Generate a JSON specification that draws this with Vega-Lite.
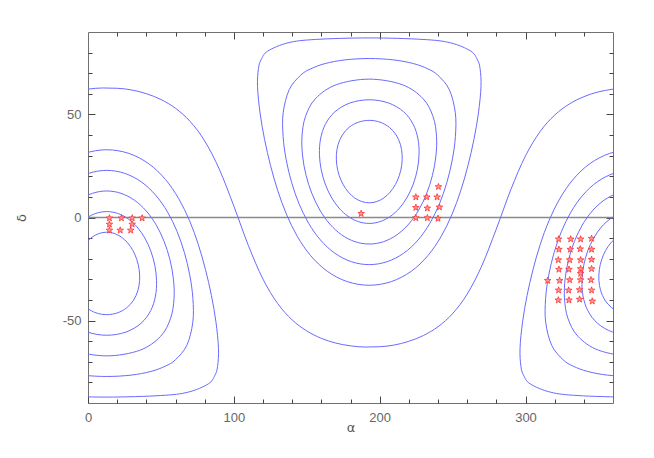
{
  "$schema": "https://vega.github.io/schema/vega-lite/v6.json",
  "width": 525,
  "height": 371,
  "autosize": {"type": "none"},
  "padding": {"left": 88, "top": 32, "right": 41, "bottom": 55},
  "background": "white",
  "config": {
    "view": {"stroke": "#707070", "strokeWidth": 1},
    "axis": {
      "labelFont": "Liberation Sans",
      "labelFontSize": 13,
      "labelColor": "#666666",
      "tickColor": "#444444",
      "tickWidth": 1,
      "ticks": true,
      "domain": false,
      "grid": false,
      "labelOverlap": false,
      "labelFlush": false,
      "titleFont": "DejaVu Sans",
      "titleFontSize": 13,
      "titleFontWeight": "normal",
      "titleColor": "#555555"
    }
  },
  "datasets": {
    "loops": [
      {"c":"N20","a":192.86,"d":47.13},{"c":"N20","a":200.22,"d":46.26},{"c":"N20","a":206.57,"d":43.80},{"c":"N20","a":211.28,"d":40.07},{"c":"N20","a":214.19,"d":35.50},{"c":"N20","a":215.40,"d":30.49},{"c":"N20","a":215.10,"d":25.37},{"c":"N20","a":213.51,"d":20.47},{"c":"N20","a":210.81,"d":16.04},{"c":"N20","a":207.19,"d":12.32},{"c":"N20","a":202.85,"d":9.49},{"c":"N20","a":197.99,"d":7.73},{"c":"N20","a":192.86,"d":7.13},{"c":"N20","a":187.73,"d":7.73},{"c":"N20","a":182.87,"d":9.49},{"c":"N20","a":178.53,"d":12.32},{"c":"N20","a":174.91,"d":16.04},{"c":"N20","a":172.21,"d":20.47},{"c":"N20","a":170.62,"d":25.37},{"c":"N20","a":170.32,"d":30.49},{"c":"N20","a":171.53,"d":35.50},{"c":"N20","a":174.44,"d":40.07},{"c":"N20","a":179.15,"d":43.80},{"c":"N20","a":185.50,"d":46.26},
      {"c":"S20a","a":12.86,"d":-47.13},{"c":"S20a","a":20.22,"d":-46.26},{"c":"S20a","a":26.57,"d":-43.80},{"c":"S20a","a":31.28,"d":-40.07},{"c":"S20a","a":34.19,"d":-35.50},{"c":"S20a","a":35.40,"d":-30.49},{"c":"S20a","a":35.10,"d":-25.37},{"c":"S20a","a":33.51,"d":-20.47},{"c":"S20a","a":30.81,"d":-16.04},{"c":"S20a","a":27.19,"d":-12.32},{"c":"S20a","a":22.85,"d":-9.49},{"c":"S20a","a":17.99,"d":-7.73},{"c":"S20a","a":12.86,"d":-7.13},{"c":"S20a","a":7.73,"d":-7.73},{"c":"S20a","a":2.87,"d":-9.49},{"c":"S20a","a":-1.47,"d":-12.32},{"c":"S20a","a":-5.09,"d":-16.04},{"c":"S20a","a":-7.79,"d":-20.47},{"c":"S20a","a":-9.38,"d":-25.37},{"c":"S20a","a":-9.68,"d":-30.49},{"c":"S20a","a":-8.47,"d":-35.50},{"c":"S20a","a":-5.56,"d":-40.07},{"c":"S20a","a":-0.85,"d":-43.80},{"c":"S20a","a":5.50,"d":-46.26},
      {"c":"S20b","a":372.86,"d":-47.13},{"c":"S20b","a":380.22,"d":-46.26},{"c":"S20b","a":386.57,"d":-43.80},{"c":"S20b","a":391.28,"d":-40.07},{"c":"S20b","a":394.19,"d":-35.50},{"c":"S20b","a":395.40,"d":-30.49},{"c":"S20b","a":395.10,"d":-25.37},{"c":"S20b","a":393.51,"d":-20.47},{"c":"S20b","a":390.81,"d":-16.04},{"c":"S20b","a":387.19,"d":-12.32},{"c":"S20b","a":382.85,"d":-9.49},{"c":"S20b","a":377.99,"d":-7.73},{"c":"S20b","a":372.86,"d":-7.13},{"c":"S20b","a":367.73,"d":-7.73},{"c":"S20b","a":362.87,"d":-9.49},{"c":"S20b","a":358.53,"d":-12.32},{"c":"S20b","a":354.91,"d":-16.04},{"c":"S20b","a":352.21,"d":-20.47},{"c":"S20b","a":350.62,"d":-25.37},{"c":"S20b","a":350.32,"d":-30.49},{"c":"S20b","a":351.53,"d":-35.50},{"c":"S20b","a":354.44,"d":-40.07},{"c":"S20b","a":359.15,"d":-43.80},{"c":"S20b","a":365.50,"d":-46.26},
      {"c":"N30","a":192.86,"d":57.13},{"c":"N30","a":206.09,"d":55.56},{"c":"N30","a":216.42,"d":51.29},{"c":"N30","a":222.98,"d":45.20},{"c":"N30","a":226.26,"d":38.12},{"c":"N30","a":227.02,"d":30.67},{"c":"N30","a":225.83,"d":23.26},{"c":"N30","a":223.06,"d":16.24},{"c":"N30","a":218.94,"d":9.93},{"c":"N30","a":213.64,"d":4.60},{"c":"N30","a":207.34,"d":0.54},{"c":"N30","a":200.30,"d":-2.00},{"c":"N30","a":192.86,"d":-2.87},{"c":"N30","a":185.42,"d":-2.00},{"c":"N30","a":178.38,"d":0.54},{"c":"N30","a":172.08,"d":4.60},{"c":"N30","a":166.78,"d":9.93},{"c":"N30","a":162.66,"d":16.24},{"c":"N30","a":159.89,"d":23.26},{"c":"N30","a":158.70,"d":30.67},{"c":"N30","a":159.46,"d":38.12},{"c":"N30","a":162.74,"d":45.20},{"c":"N30","a":169.30,"d":51.29},{"c":"N30","a":179.63,"d":55.56},
      {"c":"S30a","a":12.86,"d":-57.13},{"c":"S30a","a":26.09,"d":-55.56},{"c":"S30a","a":36.42,"d":-51.29},{"c":"S30a","a":42.98,"d":-45.20},{"c":"S30a","a":46.26,"d":-38.12},{"c":"S30a","a":47.02,"d":-30.67},{"c":"S30a","a":45.83,"d":-23.26},{"c":"S30a","a":43.06,"d":-16.24},{"c":"S30a","a":38.94,"d":-9.93},{"c":"S30a","a":33.64,"d":-4.60},{"c":"S30a","a":27.34,"d":-0.54},{"c":"S30a","a":20.30,"d":2.00},{"c":"S30a","a":12.86,"d":2.87},{"c":"S30a","a":5.42,"d":2.00},{"c":"S30a","a":-1.62,"d":-0.54},{"c":"S30a","a":-7.92,"d":-4.60},{"c":"S30a","a":-13.22,"d":-9.93},{"c":"S30a","a":-17.34,"d":-16.24},{"c":"S30a","a":-20.11,"d":-23.26},{"c":"S30a","a":-21.30,"d":-30.67},{"c":"S30a","a":-20.54,"d":-38.12},{"c":"S30a","a":-17.26,"d":-45.20},{"c":"S30a","a":-10.70,"d":-51.29},{"c":"S30a","a":-0.37,"d":-55.56},
      {"c":"S30b","a":372.86,"d":-57.13},{"c":"S30b","a":386.09,"d":-55.56},{"c":"S30b","a":396.42,"d":-51.29},{"c":"S30b","a":402.98,"d":-45.20},{"c":"S30b","a":406.26,"d":-38.12},{"c":"S30b","a":407.02,"d":-30.67},{"c":"S30b","a":405.83,"d":-23.26},{"c":"S30b","a":403.06,"d":-16.24},{"c":"S30b","a":398.94,"d":-9.93},{"c":"S30b","a":393.64,"d":-4.60},{"c":"S30b","a":387.34,"d":-0.54},{"c":"S30b","a":380.30,"d":2.00},{"c":"S30b","a":372.86,"d":2.87},{"c":"S30b","a":365.42,"d":2.00},{"c":"S30b","a":358.38,"d":-0.54},{"c":"S30b","a":352.08,"d":-4.60},{"c":"S30b","a":346.78,"d":-9.93},{"c":"S30b","a":342.66,"d":-16.24},{"c":"S30b","a":339.89,"d":-23.26},{"c":"S30b","a":338.70,"d":-30.67},{"c":"S30b","a":339.46,"d":-38.12},{"c":"S30b","a":342.74,"d":-45.20},{"c":"S30b","a":349.30,"d":-51.29},{"c":"S30b","a":359.63,"d":-55.56},
      {"c":"N40","a":192.86,"d":67.13},{"c":"N40","a":215.52,"d":64.42},{"c":"N40","a":229.78,"d":57.64},{"c":"N40","a":236.63,"d":48.92},{"c":"N40","a":238.98,"d":39.45},{"c":"N40","a":238.57,"d":29.83},{"c":"N40","a":236.18,"d":20.44},{"c":"N40","a":232.19,"d":11.61},{"c":"N40","a":226.76,"d":3.63},{"c":"N40","a":219.94,"d":-3.16},{"c":"N40","a":211.82,"d":-8.40},{"c":"N40","a":202.65,"d":-11.73},{"c":"N40","a":192.86,"d":-12.87},{"c":"N40","a":183.07,"d":-11.73},{"c":"N40","a":173.90,"d":-8.40},{"c":"N40","a":165.78,"d":-3.16},{"c":"N40","a":158.96,"d":3.63},{"c":"N40","a":153.53,"d":11.61},{"c":"N40","a":149.54,"d":20.44},{"c":"N40","a":147.15,"d":29.83},{"c":"N40","a":146.74,"d":39.45},{"c":"N40","a":149.09,"d":48.92},{"c":"N40","a":155.94,"d":57.64},{"c":"N40","a":170.20,"d":64.42},
      {"c":"S40a","a":12.86,"d":-67.13},{"c":"S40a","a":35.52,"d":-64.42},{"c":"S40a","a":49.78,"d":-57.64},{"c":"S40a","a":56.63,"d":-48.92},{"c":"S40a","a":58.98,"d":-39.45},{"c":"S40a","a":58.57,"d":-29.83},{"c":"S40a","a":56.18,"d":-20.44},{"c":"S40a","a":52.19,"d":-11.61},{"c":"S40a","a":46.76,"d":-3.63},{"c":"S40a","a":39.94,"d":3.16},{"c":"S40a","a":31.82,"d":8.40},{"c":"S40a","a":22.65,"d":11.73},{"c":"S40a","a":12.86,"d":12.87},{"c":"S40a","a":3.07,"d":11.73},{"c":"S40a","a":-6.10,"d":8.40},{"c":"S40a","a":-14.22,"d":3.16},{"c":"S40a","a":-21.04,"d":-3.63},{"c":"S40a","a":-26.47,"d":-11.61},{"c":"S40a","a":-30.46,"d":-20.44},{"c":"S40a","a":-32.85,"d":-29.83},{"c":"S40a","a":-33.26,"d":-39.45},{"c":"S40a","a":-30.91,"d":-48.92},{"c":"S40a","a":-24.06,"d":-57.64},{"c":"S40a","a":-9.80,"d":-64.42},
      {"c":"S40b","a":372.86,"d":-67.13},{"c":"S40b","a":395.52,"d":-64.42},{"c":"S40b","a":409.78,"d":-57.64},{"c":"S40b","a":416.63,"d":-48.92},{"c":"S40b","a":418.98,"d":-39.45},{"c":"S40b","a":418.57,"d":-29.83},{"c":"S40b","a":416.18,"d":-20.44},{"c":"S40b","a":412.19,"d":-11.61},{"c":"S40b","a":406.76,"d":-3.63},{"c":"S40b","a":399.94,"d":3.16},{"c":"S40b","a":391.82,"d":8.40},{"c":"S40b","a":382.65,"d":11.73},{"c":"S40b","a":372.86,"d":12.87},{"c":"S40b","a":363.07,"d":11.73},{"c":"S40b","a":353.90,"d":8.40},{"c":"S40b","a":345.78,"d":3.16},{"c":"S40b","a":338.96,"d":-3.63},{"c":"S40b","a":333.53,"d":-11.61},{"c":"S40b","a":329.54,"d":-20.44},{"c":"S40b","a":327.15,"d":-29.83},{"c":"S40b","a":326.74,"d":-39.45},{"c":"S40b","a":329.09,"d":-48.92},{"c":"S40b","a":335.94,"d":-57.64},{"c":"S40b","a":350.20,"d":-64.42},
      {"c":"N50","a":192.86,"d":77.13},{"c":"N50","a":209.45,"d":76.48},{"c":"N50","a":223.12,"d":74.69},{"c":"N50","a":233.06,"d":72.11},{"c":"N50","a":239.92,"d":69.03},{"c":"N50","a":247.73,"d":62.07},{"c":"N50","a":251.88,"d":50.82},{"c":"N50","a":251.94,"d":39.35},{"c":"N50","a":249.80,"d":28.00},{"c":"N50","a":246.11,"d":17.04},{"c":"N50","a":241.03,"d":6.70},{"c":"N50","a":234.48,"d":-2.74},{"c":"N50","a":226.34,"d":-10.89},{"c":"N50","a":216.51,"d":-17.30},{"c":"N50","a":205.15,"d":-21.43},{"c":"N50","a":192.86,"d":-22.87},{"c":"N50","a":180.57,"d":-21.43},{"c":"N50","a":169.21,"d":-17.30},{"c":"N50","a":159.38,"d":-10.89},{"c":"N50","a":151.24,"d":-2.74},{"c":"N50","a":144.69,"d":6.70},{"c":"N50","a":139.61,"d":17.04},{"c":"N50","a":135.92,"d":28.00},{"c":"N50","a":133.78,"d":39.35},{"c":"N50","a":133.84,"d":50.82},{"c":"N50","a":137.99,"d":62.07},{"c":"N50","a":145.80,"d":69.03},{"c":"N50","a":152.66,"d":72.11},{"c":"N50","a":162.60,"d":74.69},{"c":"N50","a":176.27,"d":76.48},
      {"c":"S50a","a":12.86,"d":-77.13},{"c":"S50a","a":29.45,"d":-76.48},{"c":"S50a","a":43.12,"d":-74.69},{"c":"S50a","a":53.06,"d":-72.11},{"c":"S50a","a":59.92,"d":-69.03},{"c":"S50a","a":67.73,"d":-62.07},{"c":"S50a","a":71.88,"d":-50.82},{"c":"S50a","a":71.94,"d":-39.35},{"c":"S50a","a":69.80,"d":-28.00},{"c":"S50a","a":66.11,"d":-17.04},{"c":"S50a","a":61.03,"d":-6.70},{"c":"S50a","a":54.48,"d":2.74},{"c":"S50a","a":46.34,"d":10.89},{"c":"S50a","a":36.51,"d":17.30},{"c":"S50a","a":25.15,"d":21.43},{"c":"S50a","a":12.86,"d":22.87},{"c":"S50a","a":0.57,"d":21.43},{"c":"S50a","a":-10.79,"d":17.30},{"c":"S50a","a":-20.62,"d":10.89},{"c":"S50a","a":-28.76,"d":2.74},{"c":"S50a","a":-35.31,"d":-6.70},{"c":"S50a","a":-40.39,"d":-17.04},{"c":"S50a","a":-44.08,"d":-28.00},{"c":"S50a","a":-46.22,"d":-39.35},{"c":"S50a","a":-46.16,"d":-50.82},{"c":"S50a","a":-42.01,"d":-62.07},{"c":"S50a","a":-34.20,"d":-69.03},{"c":"S50a","a":-27.34,"d":-72.11},{"c":"S50a","a":-17.40,"d":-74.69},{"c":"S50a","a":-3.73,"d":-76.48},
      {"c":"S50b","a":372.86,"d":-77.13},{"c":"S50b","a":389.45,"d":-76.48},{"c":"S50b","a":403.12,"d":-74.69},{"c":"S50b","a":413.06,"d":-72.11},{"c":"S50b","a":419.92,"d":-69.03},{"c":"S50b","a":427.73,"d":-62.07},{"c":"S50b","a":431.88,"d":-50.82},{"c":"S50b","a":431.94,"d":-39.35},{"c":"S50b","a":429.80,"d":-28.00},{"c":"S50b","a":426.11,"d":-17.04},{"c":"S50b","a":421.03,"d":-6.70},{"c":"S50b","a":414.48,"d":2.74},{"c":"S50b","a":406.34,"d":10.89},{"c":"S50b","a":396.51,"d":17.30},{"c":"S50b","a":385.15,"d":21.43},{"c":"S50b","a":372.86,"d":22.87},{"c":"S50b","a":360.57,"d":21.43},{"c":"S50b","a":349.21,"d":17.30},{"c":"S50b","a":339.38,"d":10.89},{"c":"S50b","a":331.24,"d":2.74},{"c":"S50b","a":324.69,"d":-6.70},{"c":"S50b","a":319.61,"d":-17.04},{"c":"S50b","a":315.92,"d":-28.00},{"c":"S50b","a":313.78,"d":-39.35},{"c":"S50b","a":313.84,"d":-50.82},{"c":"S50b","a":317.99,"d":-62.07},{"c":"S50b","a":325.80,"d":-69.03},{"c":"S50b","a":332.66,"d":-72.11},{"c":"S50b","a":342.60,"d":-74.69},{"c":"S50b","a":356.27,"d":-76.48},
      {"c":"N60","a":192.86,"d":87.13},{"c":"N60","a":229.69,"d":86.39},{"c":"N60","a":248.52,"d":84.76},{"c":"N60","a":262.41,"d":80.77},{"c":"N60","a":267.04,"d":76.53},{"c":"N60","a":268.85,"d":72.23},{"c":"N60","a":269.48,"d":63.56},{"c":"N60","a":267.72,"d":50.63},{"c":"N60","a":264.63,"d":37.83},{"c":"N60","a":260.58,"d":25.31},{"c":"N60","a":255.67,"d":13.18},{"c":"N60","a":249.67,"d":1.63},{"c":"N60","a":242.27,"d":-9.06},{"c":"N60","a":233.07,"d":-18.48},{"c":"N60","a":221.69,"d":-26.07},{"c":"N60","a":208.03,"d":-31.09},{"c":"N60","a":192.86,"d":-32.87},{"c":"N60","a":177.69,"d":-31.09},{"c":"N60","a":164.03,"d":-26.07},{"c":"N60","a":152.65,"d":-18.48},{"c":"N60","a":143.45,"d":-9.06},{"c":"N60","a":136.05,"d":1.63},{"c":"N60","a":130.05,"d":13.18},{"c":"N60","a":125.14,"d":25.31},{"c":"N60","a":121.09,"d":37.83},{"c":"N60","a":118.00,"d":50.63},{"c":"N60","a":116.24,"d":63.56},{"c":"N60","a":116.87,"d":72.23},{"c":"N60","a":118.68,"d":76.53},{"c":"N60","a":123.31,"d":80.77},{"c":"N60","a":137.20,"d":84.76},{"c":"N60","a":156.03,"d":86.39},
      {"c":"S60a","a":12.86,"d":-87.13},{"c":"S60a","a":49.69,"d":-86.39},{"c":"S60a","a":68.52,"d":-84.76},{"c":"S60a","a":82.41,"d":-80.77},{"c":"S60a","a":87.04,"d":-76.53},{"c":"S60a","a":88.85,"d":-72.23},{"c":"S60a","a":89.48,"d":-63.56},{"c":"S60a","a":87.72,"d":-50.63},{"c":"S60a","a":84.63,"d":-37.83},{"c":"S60a","a":80.58,"d":-25.31},{"c":"S60a","a":75.67,"d":-13.18},{"c":"S60a","a":69.67,"d":-1.63},{"c":"S60a","a":62.27,"d":9.06},{"c":"S60a","a":53.07,"d":18.48},{"c":"S60a","a":41.69,"d":26.07},{"c":"S60a","a":28.03,"d":31.09},{"c":"S60a","a":12.86,"d":32.87},{"c":"S60a","a":-2.31,"d":31.09},{"c":"S60a","a":-15.97,"d":26.07},{"c":"S60a","a":-27.35,"d":18.48},{"c":"S60a","a":-36.55,"d":9.06},{"c":"S60a","a":-43.95,"d":-1.63},{"c":"S60a","a":-49.95,"d":-13.18},{"c":"S60a","a":-54.86,"d":-25.31},{"c":"S60a","a":-58.91,"d":-37.83},{"c":"S60a","a":-62.00,"d":-50.63},{"c":"S60a","a":-63.76,"d":-63.56},{"c":"S60a","a":-63.13,"d":-72.23},{"c":"S60a","a":-61.32,"d":-76.53},{"c":"S60a","a":-56.69,"d":-80.77},{"c":"S60a","a":-42.80,"d":-84.76},{"c":"S60a","a":-23.97,"d":-86.39},
      {"c":"S60b","a":372.86,"d":-87.13},{"c":"S60b","a":409.69,"d":-86.39},{"c":"S60b","a":428.52,"d":-84.76},{"c":"S60b","a":442.41,"d":-80.77},{"c":"S60b","a":447.04,"d":-76.53},{"c":"S60b","a":448.85,"d":-72.23},{"c":"S60b","a":449.48,"d":-63.56},{"c":"S60b","a":447.72,"d":-50.63},{"c":"S60b","a":444.63,"d":-37.83},{"c":"S60b","a":440.58,"d":-25.31},{"c":"S60b","a":435.67,"d":-13.18},{"c":"S60b","a":429.67,"d":-1.63},{"c":"S60b","a":422.27,"d":9.06},{"c":"S60b","a":413.07,"d":18.48},{"c":"S60b","a":401.69,"d":26.07},{"c":"S60b","a":388.03,"d":31.09},{"c":"S60b","a":372.86,"d":32.87},{"c":"S60b","a":357.69,"d":31.09},{"c":"S60b","a":344.03,"d":26.07},{"c":"S60b","a":332.65,"d":18.48},{"c":"S60b","a":323.45,"d":9.06},{"c":"S60b","a":316.05,"d":-1.63},{"c":"S60b","a":310.05,"d":-13.18},{"c":"S60b","a":305.14,"d":-25.31},{"c":"S60b","a":301.09,"d":-37.83},{"c":"S60b","a":298.00,"d":-50.63},{"c":"S60b","a":296.24,"d":-63.56},{"c":"S60b","a":296.87,"d":-72.23},{"c":"S60b","a":298.68,"d":-76.53},{"c":"S60b","a":303.31,"d":-80.77},{"c":"S60b","a":317.20,"d":-84.76},{"c":"S60b","a":336.03,"d":-86.39}
    ],
    "gc": [
      {"a":0,"d":62.27},{"a":10,"d":62.85},{"a":20,"d":62.70},{"a":30,"d":61.87},{"a":40,"d":60.07},{"a":50,"d":57.25},{"a":60,"d":53.00},{"a":70,"d":46.64},{"a":80,"d":37.17},{"a":90,"d":23.48},{"a":100,"d":5.56},{"a":110,"d":-13.64},{"a":120,"d":-29.91},{"a":130,"d":-41.68},{"a":140,"d":-49.68},{"a":150,"d":-55.05},{"a":160,"d":-58.62},{"a":170,"d":-60.94},{"a":180,"d":-62.27},{"a":190,"d":-62.85},{"a":200,"d":-62.70},{"a":210,"d":-61.87},{"a":220,"d":-60.07},{"a":230,"d":-57.25},{"a":240,"d":-53.00},{"a":250,"d":-46.64},{"a":260,"d":-37.17},{"a":270,"d":-23.48},{"a":280,"d":-5.56},{"a":290,"d":13.64},{"a":300,"d":29.91},{"a":310,"d":41.68},{"a":320,"d":49.68},{"a":330,"d":55.05},{"a":340,"d":58.62},{"a":350,"d":60.94},{"a":360,"d":62.27}
    ],
    "starsA": [
      {"a":14.7,"d":-0.3},{"a":22.9,"d":-0.3},{"a":30.3,"d":-0.3},{"a":37.1,"d":-0.3},{"a":14.7,"d":-3.3},{"a":30.3,"d":-3.3},{"a":14.7,"d":-6.2},{"a":22.1,"d":-6.2},{"a":29.3,"d":-6.2},
      {"a":187.3,"d":1.9},{"a":224.8,"d":9.9},{"a":232.3,"d":9.9},{"a":239.4,"d":9.9},{"a":240.3,"d":14.9},{"a":224.8,"d":4.8},{"a":232.7,"d":4.5},{"a":241.0,"d":5.0},{"a":224.8,"d":-0.2},{"a":232.7,"d":-0.2},{"a":240.0,"d":-0.5}
    ],
    "starsB": [
      {"a":322.7,"d":-10.5},{"a":331.0,"d":-10.5},{"a":337.8,"d":-10.5},{"a":345.3,"d":-10.2},
      {"a":322.9,"d":-15.5},{"a":330.7,"d":-15.5},{"a":337.5,"d":-15.3},{"a":345.3,"d":-15.5},
      {"a":322.5,"d":-20.6},{"a":330.3,"d":-20.6},{"a":337.8,"d":-20.6},{"a":345.3,"d":-20.4},
      {"a":322.9,"d":-25.2},{"a":329.8,"d":-25.2},{"a":337.8,"d":-24.9},{"a":345.3,"d":-24.9},{"a":337.8,"d":-27.2},
      {"a":315.2,"d":-30.6},{"a":323.4,"d":-30.6},{"a":330.3,"d":-30.3},{"a":337.8,"d":-30.3},{"a":344.9,"d":-30.3},
      {"a":322.7,"d":-35.3},{"a":329.6,"d":-35.3},{"a":337.1,"d":-35.1},{"a":345.3,"d":-35.3},
      {"a":322.5,"d":-40.1},{"a":329.8,"d":-40.1},{"a":337.1,"d":-39.7},{"a":345.8,"d":-40.6}
    ]
  },
  "layer": [
    {
      "data": {"values": [{"lvl": 0}]},
      "mark": {"type": "rule", "color": "#8a8a8a", "strokeWidth": 1.5},
      "encoding": {
        "y": {"field": "lvl", "type": "quantitative", "scale": {"domain": [-90, 90], "nice": false, "zero": false}, "axis": null}
      }
    },
    {
      "data": {"name": "gc"},
      "mark": {"type": "line", "interpolate": "monotone", "clip": true, "color": "#6a6aff", "strokeWidth": 1},
      "encoding": {
        "x": {
          "field": "a", "type": "quantitative",
          "scale": {"domain": [0, 360], "nice": false, "zero": false},
          "axis": {"orient": "bottom", "values": [0, 100, 200, 300], "labelExpr": "'' + datum.value", "tickSize": -7, "labelPadding": 15, "title": "α", "titlePadding": -3}
        },
        "y": {
          "field": "d", "type": "quantitative",
          "scale": {"domain": [-90, 90], "nice": false, "zero": false},
          "axis": {"orient": "left", "values": [-50, 0, 50], "labelExpr": "'' + datum.value", "tickSize": -7, "labelPadding": 14, "title": "δ", "titlePadding": 34}
        }
      }
    },
    {
      "data": {"name": "loops"},
      "mark": {"type": "line", "interpolate": "cardinal-closed", "clip": true, "color": "#6a6aff", "strokeWidth": 1},
      "encoding": {
        "x": {
          "field": "a", "type": "quantitative",
          "axis": {"orient": "top", "values": [100, 200, 300], "labels": false, "tickSize": -7, "title": null}
        },
        "y": {
          "field": "d", "type": "quantitative",
          "axis": {"orient": "right", "values": [-50, 0, 50], "labels": false, "tickSize": -7, "title": null}
        },
        "detail": {"field": "c", "type": "nominal"},
        "order": {"value": null}
      }
    },
    {
      "data": {"name": "starsA"},
      "mark": {
        "type": "point",
        "shape": "M0,-1L0.235,-0.324L0.951,-0.309L0.38,0.124L0.588,0.809L0,0.4L-0.588,0.809L-0.38,0.124L-0.951,-0.309L-0.235,-0.324Z",
        "size": 48, "filled": true, "fill": "#ff9a9a", "stroke": "#ff3030", "strokeWidth": 0.8, "opacity": 1
      },
      "encoding": {
        "x": {
          "field": "a", "type": "quantitative",
          "axis": {"orient": "bottom", "values": [20,40,60,80,120,140,160,180,220,240,260,280,320,340], "labels": false, "tickSize": -4, "title": null}
        },
        "y": {
          "field": "d", "type": "quantitative",
          "axis": {"orient": "left", "values": [-80,-70,-60,-40,-30,-20,-10,10,20,30,40,60,70,80], "labels": false, "tickSize": -4, "title": null}
        }
      }
    },
    {
      "data": {"name": "starsB"},
      "mark": {
        "type": "point",
        "shape": "M0,-1L0.235,-0.324L0.951,-0.309L0.38,0.124L0.588,0.809L0,0.4L-0.588,0.809L-0.38,0.124L-0.951,-0.309L-0.235,-0.324Z",
        "size": 48, "filled": true, "fill": "#ff9a9a", "stroke": "#ff3030", "strokeWidth": 0.8, "opacity": 1
      },
      "encoding": {
        "x": {
          "field": "a", "type": "quantitative",
          "axis": {"orient": "top", "values": [20,40,60,80,120,140,160,180,220,240,260,280,320,340], "labels": false, "tickSize": -4, "title": null}
        },
        "y": {
          "field": "d", "type": "quantitative",
          "axis": {"orient": "right", "values": [-80,-70,-60,-40,-30,-20,-10,10,20,30,40,60,70,80], "labels": false, "tickSize": -4, "title": null}
        }
      }
    }
  ],
  "resolve": {"axis": {"x": "independent", "y": "independent"}}
}
